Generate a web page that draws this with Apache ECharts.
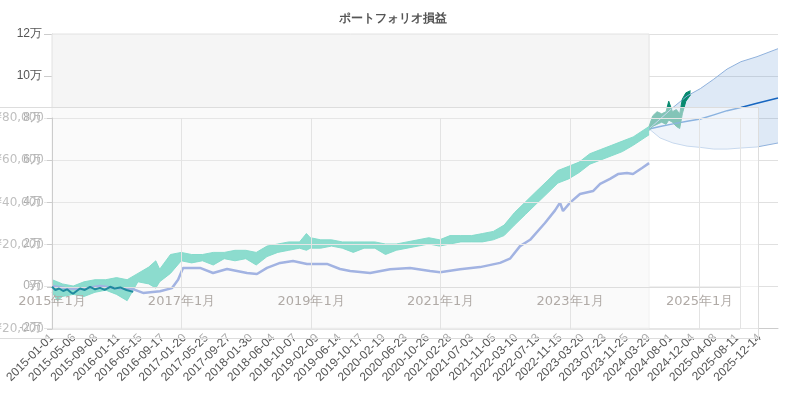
<!DOCTYPE html>
<html>
  <head>
    <meta charset="utf-8">
    <script src="https://cdn.jsdelivr.net/npm/echarts@6/dist/echarts.min.js"></script>
    <style>
      body { margin: 0; background: #fff; }
    </style>
  </head>
  <body>
    <div id="main" style="position:absolute;left:0;top:0;width:785px;height:399px;"></div>
    <!-- second chart sits on top with a half-white background -->
    <div id="over" style="position:absolute;left:0;top:107px;width:758px;height:230px;background:rgba(255,255,255,0.5);border-top:1px solid #ddd;border-right:1px solid #ddd;border-bottom:1px solid #ddd;"></div>
    <script type="text/javascript">
      // portfolio (historical), values in yen
      var tealDates = ['2015-01-01','2015-02-01','2015-03-01','2015-05-01','2015-07-01','2015-09-01','2015-11-01',
        '2016-01-01','2016-03-01','2016-05-01','2016-07-01','2016-08-10','2016-09-01','2016-11-01',
        '2017-01-01','2017-03-01','2017-05-01','2017-07-01','2017-09-01','2017-11-01',
        '2018-01-01','2018-03-01','2018-05-01','2018-07-01','2018-09-01','2018-11-01','2018-12-10',
        '2019-01-01','2019-03-01','2019-05-01','2019-07-01','2019-09-01','2019-11-01',
        '2020-01-01','2020-03-01','2020-05-01','2020-07-01','2020-09-01','2020-11-01',
        '2021-01-01','2021-03-01','2021-05-01','2021-07-01','2021-09-01','2021-11-01',
        '2022-01-01','2022-03-01','2022-05-01','2022-07-01','2022-09-01','2022-11-01',
        '2023-01-01','2023-03-01','2023-05-01','2023-07-01','2023-09-01','2023-11-01',
        '2024-01-01','2024-03-31'];
      var tealLow = [-3000,-7000,-5000,-4000,-5000,-3000,-2000,
        -4000,-7000,2000,1000,-1000,2000,6000,
        12000,11000,12000,10000,13000,12000,
        13000,10000,14000,16000,17000,18000,17000,
        18000,18000,19000,18000,16000,18000,
        18000,15000,17000,18000,19000,20000,
        19000,20000,21000,21000,21000,22000,
        24000,29000,34000,39000,44000,49000,
        51000,54000,58000,60000,62000,64000,
        67000,72000];
      var tealHigh = [3000,2000,1000,0,2000,3000,3000,
        4000,3000,6000,9000,12000,8000,15000,
        16000,15000,15000,16000,16000,17000,
        17000,16000,19000,20000,21000,21000,25000,
        23000,22000,22000,21000,21000,21000,
        21000,20000,20000,21000,22000,23000,
        22000,24000,24000,24000,25000,26000,
        29000,35000,40000,45000,50000,55000,
        57000,59000,63000,65000,67000,69000,
        71000,76000];

      // benchmark line
      var benchDates = ['2015-01-01','2015-03-15','2015-06-08','2015-09-29','2015-12-23','2016-04-03',
        '2016-05-30','2016-09-03','2016-11-10','2016-12-14','2017-01-11','2017-04-17','2017-06-30',
        '2017-09-17','2018-01-08','2018-03-05','2018-05-01','2018-07-14','2018-09-25','2018-12-13',
        '2019-04-05','2019-06-18','2019-08-14','2019-12-05','2020-03-27','2020-07-18','2020-11-08',
        '2021-01-04','2021-04-27','2021-08-18','2021-12-09','2022-02-03','2022-04-01','2022-05-28',
        '2022-08-20','2022-10-16','2022-11-13','2022-11-30','2023-01-09','2023-03-06','2023-05-19',
        '2023-06-28','2023-08-23','2023-10-07','2023-11-27','2023-12-31','2024-02-20','2024-03-31'];
      var benchValues = [0,-1000,-1500,0,-1000,-1500,
        -3300,-2500,-1000,3000,8600,8600,6200,
        8100,6200,5700,8600,11000,11900,10500,
        10500,8100,7100,6200,8000,8600,7100,
        6600,8000,9000,11000,13000,19000,22000,
        30000,36000,39700,35700,39700,43800,45200,
        48600,51000,53300,53800,53300,56200,58500];

      // recent actual after forecast start
      var recentDates = ['2024-03-31','2024-04-20','2024-05-15','2024-06-10','2024-07-05','2024-07-20',
        '2024-08-10','2024-09-01','2024-09-20','2024-10-05','2024-10-25','2024-11-20'];
      var recentLow = [74000,76000,77000,78000,77000,79000,78000,76000,75000,82000,88000,91000];
      var recentHigh = [76000,81000,83000,82000,83000,88000,83000,84000,82000,89000,92000,93000];

      // forecast band
      var fcDates = ['2024-03-31','2024-06-01','2024-08-13','2024-11-01','2025-01-15','2025-04-01',
        '2025-06-15','2025-09-01','2025-12-01','2026-03-30'];
      var fcUpper = [74800,79500,85000,90500,94000,98500,103300,106800,109200,113000];
      var fcLower = [74800,70500,68100,66600,66000,65200,65200,65700,66200,68100];
      var fcMedian = [74800,76000,77200,78500,79500,81500,83500,85000,87000,89500];

      // second chart: early part of the line
      var earlyDates = ['2015-01-01','2015-01-20','2015-02-10','2015-03-05','2015-03-27','2015-04-15',
        '2015-04-30','2015-05-20','2015-06-08','2015-07-05','2015-08-04','2015-09-01','2015-09-29',
        '2015-10-25','2015-11-25','2015-12-20','2016-01-21','2016-02-25','2016-04-03'];
      var earlyValues = [0,-1500,-800,-2000,-1200,-2500,
        -3300,-2000,-800,-1500,0,-1200,-500,
        -1500,0,-800,-300,-1500,-2400];

      var t0 = Date.UTC(2015, 0, 1);
      var DAY = 86400000;
      var lastDay = 4106;
      function ts(s) {
        var p = s.split('-');
        return Date.UTC(+p[0], +p[1] - 1, +p[2]);
      }
      function dayOf(s) {
        return Math.round((ts(s) - t0) / DAY);
      }
      function pairs(dates, vals) {
        return dates.map(function (d, i) { return [ts(d), vals[i]]; });
      }
      function diffPairs(dates, lo, hi) {
        return dates.map(function (d, i) { return [ts(d), hi[i] - lo[i]]; });
      }
      function fmtDay(v) {
        return new Date(t0 + v * DAY).toISOString().slice(0, 10);
      }

      var teal = '#00b392';
      var green = '#07896f';
      var bandLine = '#8fb1dc';

      var myChart = echarts.init(document.getElementById('main'));
      myChart.setOption({
        animation: false,
        title: {
          text: 'ポートフォリオ損益',
          left: 'center',
          top: 8,
          textStyle: { fontSize: 12, fontWeight: 'bold', color: '#555' }
        },
        grid: { left: 52, right: 7, top: 34, bottom: 71, containLabel: false, outerBoundsMode: 'none' },
        xAxis: [
          {
            // date labels every 125 days
            type: 'value',
            min: 0,
            max: lastDay,
            interval: 125,
            axisLine: { onZero: false, lineStyle: { color: '#ccc' } },
            axisTick: { show: false },
            splitLine: { show: false },
            axisLabel: {
              rotate: 45,
              color: '#555',
              fontSize: 12,
              margin: 8,
              showMaxLabel: false,
              formatter: fmtDay
            }
          },
          {
            type: 'time',
            show: false,
            min: t0,
            max: t0 + lastDay * DAY
          }
        ],
        yAxis: {
          type: 'value',
          min: -20000,
          max: 120000,
          interval: 20000,
          axisLine: { show: true, lineStyle: { color: '#ccc' } },
          axisTick: { show: true, length: 8, lineStyle: { color: '#ccc' } },
          splitLine: { lineStyle: { color: '#e0e0e0' } },
          axisLabel: {
            color: '#555',
            fontSize: 12,
            margin: 10,
            formatter: function (v) { return v / 10000 + '万'; }
          }
        },
        series: [
          {
            type: 'line',
            name: 'fcLower',
            xAxisIndex: 1,
            stack: 'fc',
            symbol: 'none',
            data: pairs(fcDates, fcLower),
            lineStyle: { color: bandLine, width: 1 },
            markArea: {
              silent: true,
              itemStyle: { color: '#f5f5f5', borderColor: '#e2e2e2', borderWidth: 1 },
              data: [[{ xAxis: t0 }, { xAxis: ts('2024-03-31') }]]
            }
          },
          {
            type: 'line',
            name: 'fcBand',
            xAxisIndex: 1,
            stack: 'fc',
            symbol: 'none',
            data: diffPairs(fcDates, fcLower, fcUpper),
            lineStyle: { color: bandLine, width: 1 },
            areaStyle: { color: '#5b8fd0', opacity: 0.2 }
          },
          {
            type: 'line',
            name: 'fcMedian',
            xAxisIndex: 1,
            symbol: 'none',
            data: pairs(fcDates, fcMedian),
            lineStyle: { color: '#1766c0', width: 1.5 }
          },
          {
            type: 'line',
            name: 'tealLow',
            xAxisIndex: 1,
            stack: 'teal',
            stackStrategy: 'all',
            symbol: 'none',
            data: pairs(tealDates, tealLow),
            lineStyle: { color: teal, width: 1, opacity: 0.9 }
          },
          {
            type: 'line',
            name: 'tealBand',
            xAxisIndex: 1,
            stack: 'teal',
            stackStrategy: 'all',
            symbol: 'none',
            data: diffPairs(tealDates, tealLow, tealHigh),
            lineStyle: { color: teal, width: 1, opacity: 0.9 },
            areaStyle: { color: teal, opacity: 0.9 }
          },
          {
            type: 'line',
            name: 'bench',
            xAxisIndex: 1,
            symbol: 'none',
            data: pairs(benchDates, benchValues),
            lineStyle: { color: '#4466c4', width: 2.5 }
          },
          {
            type: 'line',
            name: 'recentLow',
            xAxisIndex: 1,
            stack: 'recent',
            symbol: 'none',
            data: pairs(recentDates, recentLow),
            lineStyle: { color: green, width: 1 }
          },
          {
            type: 'line',
            name: 'recentBand',
            xAxisIndex: 1,
            stack: 'recent',
            symbol: 'none',
            data: diffPairs(recentDates, recentLow, recentHigh),
            lineStyle: { color: green, width: 1 },
            areaStyle: { color: green, opacity: 1 }
          }
        ]
      });

      var overChart = echarts.init(document.getElementById('over'));
      overChart.setOption({
        animation: false,
        grid: { left: 52, right: 18, top: 10, bottom: 9, containLabel: false, outerBoundsMode: 'none' },
        xAxis: {
          type: 'value',
          min: 0,
          max: 3880,
          interval: 730.5,
          position: 'bottom',
          offset: -42,
          axisLine: { onZero: false, lineStyle: { color: '#ddd' } },
          axisTick: { show: false },
          splitLine: { show: true, lineStyle: { color: '#e3e3e3' } },
          axisLabel: {
            color: '#b0aaa6',
            fontSize: 13,
            fontFamily: 'DejaVu Sans',
            showMaxLabel: false,
            formatter: function (v) { return (2015 + Math.round(v / 365.25)) + '年1月'; }
          }
        },
        yAxis: {
          type: 'value',
          min: -20000,
          max: 80000,
          interval: 20000,
          axisLine: { show: true, lineStyle: { color: '#ccc' } },
          splitLine: { lineStyle: { color: '#e6e6e6' } },
          axisLabel: {
            color: '#c0c0c0',
            fontSize: 12,
            fontFamily: 'DejaVu Sans',
            formatter: function (v) {
              return (v < 0 ? '-¥' : '¥') + Math.abs(v).toLocaleString('en-US');
            }
          }
        },
        series: [
          {
            type: 'line',
            symbol: 'none',
            data: earlyDates.map(function (d, i) { return [dayOf(d), earlyValues[i]]; }),
            lineStyle: { color: '#1e8a9e', width: 2 }
          }
        ]
      });
    </script>
  </body>
</html>
